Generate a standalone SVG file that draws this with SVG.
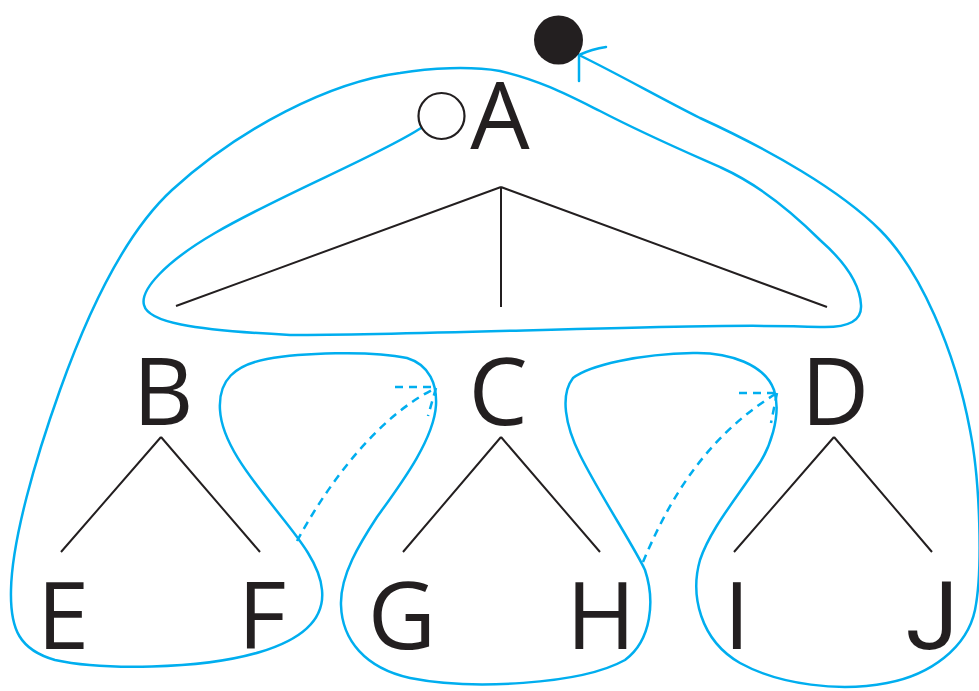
<svg xmlns="http://www.w3.org/2000/svg" width="979" height="691" viewBox="0 0 979 691">
  <style>
    .label { font-family: "Open Sans", "Noto Sans", sans-serif; font-size: 94px; fill: #231f20; text-anchor: middle; }
    .flat { font-family: Roboto, "Liberation Sans", sans-serif; font-size: 95px; }
    .edge { stroke: #231f20; stroke-width: 2; fill: none; stroke-linecap: butt; }
    .tour { stroke: #00aeef; stroke-width: 2.5; fill: none; stroke-linecap: round; stroke-linejoin: round; }
    .dash { stroke: #00aeef; stroke-width: 2.5; fill: none; stroke-dasharray: 8 6; }
  </style>
  <rect width="979" height="691" fill="#ffffff"/>

  <!-- tree edges -->
  <g id="connectors">
    <path class="edge" d="M501,187 L176,306 M501,187 L501,307 M501,187 L827,307"/>
    <path class="edge" d="M161,437 L61,552 M161,437 L260,552"/>
    <path class="edge" d="M501,437 L403,552 M501,437 L600,552"/>
    <path class="edge" d="M834,437 L734,552 M834,437 L932,552"/>

    <!-- traversal contour around the tree -->
    <path class="tour" d="M421,128
      C 380,155 280,195 215,233
      C 165,262 140,290 144,305
      C 148,322 190,330 290,335
      C 450,335 700,322 820,327
      C 850,328 862,320 861,305
      C 860,285 845,262 820,240
      C 790,210 755,183 722,168
      C 700,158 650,137 600,111
      C 570,96 540,80 500,71
      C 470,66 430,68 400,73
      C 330,82 240,128 172,190
      C 122,236 85,320 60,390
      C 35,460 12,540 11,590
      C 10,630 20,650 55,660
      C 100,670 200,670 260,652
      C 300,640 325,620 322,590
      C 320,565 300,540 280,515
      C 255,483 222,445 220,410
      C 218,380 235,365 267,359
      C 300,353 370,350 407,358
      C 430,365 437,385 436,405
      C 434,440 400,485 377,517
      C 360,543 340,575 341,605
      C 342,640 365,668 410,678
      C 470,690 580,685 625,660
      C 652,640 655,600 645,570
      C 635,548 600,495 580,455
      C 565,425 560,395 573,378
      C 590,365 640,354 693,353
      C 730,352 765,365 774,390
      C 782,415 770,450 755,470
      C 735,500 710,530 700,560
      C 690,595 700,640 740,663
      C 780,685 840,692 887,683
      C 930,675 967,648 975,610
      C 983,570 980,480 970,430
      C 955,350 920,270 880,230
      C 840,190 770,150 700,118
      C 660,98 620,75 579,55"/>
    <!-- open arrowhead at the finish point -->
    <path class="tour" d="M579,55 Q592,49 606,47 M579,55 L579,81"/>

    <!-- dashed jumps back to the parent -->
    <path class="dash" d="M297,541 C 330,480 380,415 436,388"/>
    <path class="dash" d="M395,387 L436,387 M436,388 L428,416"/>
    <path class="dash" d="M643,562 C 665,510 700,440 777,393"/>
    <path class="dash" d="M739,393 L777,393 M777,393 L771,423"/>
  </g>

  <!-- start and finish markers -->
  <g id="start"><circle cx="441.5" cy="116" r="23" fill="#ffffff" stroke="#231f20" stroke-width="2.2"/></g>
  <g id="finish"><circle cx="558.5" cy="40" r="24.5" fill="#231f20"/></g>

  <!-- nodes -->
  <g id="node-A"><text class="label" x="500" y="149">A</text></g>
  <g id="node-B"><text class="label" x="163" y="425">B</text></g>
  <g id="node-C"><text class="label" x="498" y="425">C</text></g>
  <g id="node-D"><text class="label" x="835" y="425">D</text></g>
  <g id="node-E"><text class="label" x="63" y="649">E</text></g>
  <g id="node-F"><text class="label" x="262" y="649">F</text></g>
  <g id="node-G"><text class="label" x="402" y="649">G</text></g>
  <g id="node-H"><text class="label" x="601" y="649">H</text></g>
  <g id="node-I"><text class="label" x="737" y="649">I</text></g>
  <g id="node-J"><text class="label flat" x="932" y="649">J</text></g>
</svg>
